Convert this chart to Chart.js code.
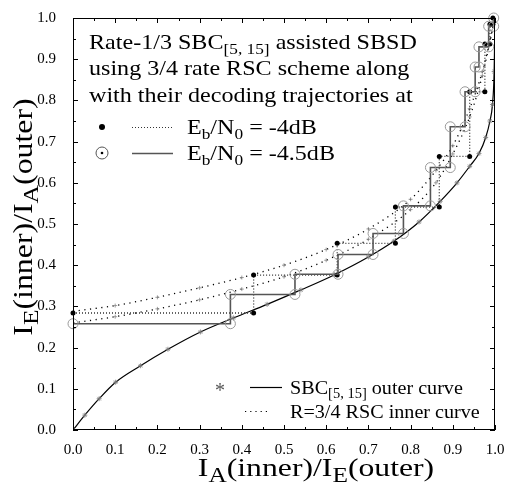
<!DOCTYPE html>
<html>
<head>
<meta charset="utf-8">
<script src="https://cdn.jsdelivr.net/npm/chart.js@4.4.0/dist/chart.umd.min.js"></script>
<style>
html, body { margin: 0; padding: 0; background: #fff; }
</style>
</head>
<body>
<canvas id="myChart" width="516" height="484"></canvas>
<script>
// Outer curve (SBC[5,15]), plotted inverted
const outerX = [0, 0.028, 0.062, 0.101, 0.160, 0.225, 0.302, 0.38, 0.46, 0.54, 0.62, 0.70, 0.76, 0.82, 0.87, 0.91, 0.94, 0.962, 0.978, 0.988, 0.994, 0.998, 1.0];
const outerY = [0, 0.036, 0.076, 0.116, 0.156, 0.196, 0.238, 0.272, 0.305, 0.340, 0.377, 0.420, 0.458, 0.505, 0.555, 0.60, 0.64, 0.671, 0.71, 0.75, 0.79, 0.87, 1.0];

// Inner curves (R=3/4 RSC) at -4dB and -4.5dB
const innerX = [0, 0.1, 0.2, 0.3, 0.4, 0.5, 0.6, 0.7, 0.8, 0.86, 0.9, 0.94, 0.97, 1.0];
const inner4Y = [0.288, 0.302, 0.322, 0.345, 0.370, 0.400, 0.438, 0.488, 0.560, 0.630, 0.69, 0.78, 0.87, 1.0];
const inner45Y = [0.260, 0.275, 0.294, 0.316, 0.342, 0.372, 0.412, 0.463, 0.535, 0.60, 0.67, 0.76, 0.86, 1.0];

// Decoding trajectories
const traj4X = [0, 0.428, 0.428, 0.626, 0.626, 0.764, 0.764, 0.868, 0.868, 0.940, 0.940, 0.976, 0.976, 0.988, 0.988, 0.995, 0.995];
const traj4Y = [0.284, 0.284, 0.376, 0.376, 0.453, 0.453, 0.541, 0.541, 0.664, 0.664, 0.821, 0.821, 0.937, 0.937, 0.985, 0.985, 1.0];
const traj45X = [0, 0.373, 0.373, 0.526, 0.526, 0.628, 0.628, 0.711, 0.711, 0.783, 0.783, 0.847, 0.847, 0.894, 0.894, 0.929, 0.929, 0.953, 0.953, 0.962, 0.962, 0.985, 0.985, 0.997, 0.997];
const traj45Y = [0.258, 0.258, 0.329, 0.329, 0.378, 0.378, 0.426, 0.426, 0.477, 0.477, 0.544, 0.544, 0.637, 0.637, 0.736, 0.736, 0.821, 0.821, 0.881, 0.881, 0.93, 0.93, 0.98, 0.98, 1.0];

const tickValues = [0, 0.1, 0.2, 0.3, 0.4, 0.5, 0.6, 0.7, 0.8, 0.9, 1.0];

const SERIF = '"Liberation Serif", "Times New Roman", serif';

function pts(xs, ys) {
    return xs.map((x, i) => ({ x: x, y: ys[i] }));
}

// draw text with subscripts: parts = [[text, isSub], ...]
// stretch widens the glyphs a little, the original font is wider than Liberation Serif
function richText(ctx, parts, x, y, size, align, subRatio, stretch) {
    const subSize = size * (subRatio || 0.72);
    const k = stretch || 1;
    let total = 0;
    const widths = parts.map(p => {
        ctx.font = (p[1] ? subSize : size) + 'px ' + SERIF;
        const w = ctx.measureText(p[0]).width;
        total += w;
        return w;
    });
    let cx = 0;
    if (align === 'center') cx = -total / 2;
    if (align === 'right') cx = -total;
    ctx.save();
    ctx.translate(x, y);
    ctx.scale(k, 1);
    ctx.textBaseline = 'alphabetic';
    ctx.textAlign = 'left';
    parts.forEach((p, i) => {
        ctx.font = (p[1] ? subSize : size) + 'px ' + SERIF;
        ctx.fillText(p[0], cx, p[1] ? size * 0.22 : 0);
        cx += widths[i];
    });
    ctx.restore();
    return total * k;
}

const decor = {
    id: 'decor',
    afterDraw(chart) {
        const ctx = chart.ctx;
        const a = chart.chartArea;
        const xs = chart.scales.x, ys = chart.scales.y;
        ctx.save();
        ctx.strokeStyle = '#000';
        ctx.lineWidth = 1;
        ctx.strokeRect(a.left + 0.5, a.top + 0.5, a.right - a.left - 1, a.bottom - a.top - 1);

        // inward ticks, major every 0.1 and minor every 0.05
        ctx.beginPath();
        for (let k = 0; k <= 20; k++) {
            const v = k * 0.05;
            const len = k % 2 === 0 ? 5 : 3;
            const px = Math.round(xs.getPixelForValue(v)) + 0.5;
            const py = Math.round(ys.getPixelForValue(v)) + 0.5;
            ctx.moveTo(px, a.bottom); ctx.lineTo(px, a.bottom - len);
            ctx.moveTo(px, a.top); ctx.lineTo(px, a.top + len);
            ctx.moveTo(a.left, py); ctx.lineTo(a.left + len, py);
            ctx.moveTo(a.right, py); ctx.lineTo(a.right - len, py);
        }
        ctx.stroke();

        ctx.fillStyle = '#000';
        // axis titles
        richText(ctx, [['I', 0], ['A', 1], ['(inner)/I', 0], ['E', 1], ['(outer)', 0]], 316, 476, 26, 'center', 0.8, 1.22);
        ctx.save();
        ctx.translate(32, 217);
        ctx.rotate(-Math.PI / 2);
        richText(ctx, [['I', 0], ['E', 1], ['(inner)/I', 0], ['A', 1], ['(outer)', 0]], 0, 0, 27, 'center', 0.8, 1.18);
        ctx.restore();

        // top-left annotation
        const fs = 21.5, st = 1.12;
        richText(ctx, [['Rate-1/3 SBC', 0], ['[5, 15]', 1], [' assisted SBSD', 0]], 89, 49, fs, 'left', 0.72, st);
        richText(ctx, [['using 3/4 rate RSC scheme along', 0]], 89, 75, fs, 'left', 0.72, st);
        richText(ctx, [['with their decoding trajectories at', 0]], 89, 102, fs, 'left', 0.72, st);
        richText(ctx, [['E', 0], ['b', 1], ['/N', 0], ['0', 1], [' = -4dB', 0]], 187, 134, fs, 'left', 0.72, st);
        richText(ctx, [['E', 0], ['b', 1], ['/N', 0], ['0', 1], [' = -4.5dB', 0]], 187, 160, fs, 'left', 0.72, st);

        // legend samples for the trajectories
        ctx.beginPath();
        ctx.arc(102, 127, 3, 0, Math.PI * 2);
        ctx.fill();
        ctx.strokeStyle = '#555';
        ctx.lineWidth = 1;
        ctx.beginPath();
        ctx.arc(102, 153, 6, 0, Math.PI * 2);
        ctx.stroke();
        ctx.beginPath();
        ctx.arc(102, 153, 1.3, 0, Math.PI * 2);
        ctx.fill();
        ctx.setLineDash([1, 2]);
        ctx.strokeStyle = '#333';
        ctx.beginPath();
        ctx.moveTo(132, 127.5); ctx.lineTo(173, 127.5);
        ctx.stroke();
        ctx.setLineDash([]);
        ctx.strokeStyle = '#555';
        ctx.lineWidth = 1.5;
        ctx.beginPath();
        ctx.moveTo(132, 153.5); ctx.lineTo(173, 153.5);
        ctx.stroke();

        // bottom-right legend
        ctx.fillStyle = '#555';
        ctx.font = '20px ' + SERIF;
        ctx.textAlign = 'center';
        ctx.fillText('*', 220, 397);
        ctx.fillStyle = '#000';
        ctx.strokeStyle = '#000';
        ctx.lineWidth = 1.2;
        ctx.beginPath();
        ctx.moveTo(250, 387.5); ctx.lineTo(282, 387.5);
        ctx.stroke();
        ctx.setLineDash([1.2, 4]);
        ctx.beginPath();
        ctx.moveTo(245, 411.5); ctx.lineTo(270, 411.5);
        ctx.stroke();
        ctx.setLineDash([]);
        richText(ctx, [['SBC', 0], ['[5, 15]', 1], [' outer curve', 0]], 290, 394, 19, 'left', 0.72, 1.06);
        richText(ctx, [['R=3/4 RSC inner curve', 0]], 290, 418, 19, 'left', 0.72, 1.06);
        ctx.restore();
    }
};

const ctx = document.getElementById('myChart').getContext('2d');
const myChart = new Chart(ctx, {
    type: 'scatter',
    data: {
        datasets: [
            {
                label: 'traj -4.5dB',
                data: pts(traj45X, traj45Y),
                showLine: true,
                borderColor: '#555',
                borderWidth: 1.6,
                pointStyle: 'circle',
                pointRadius: 5,
                pointBorderColor: '#999',
                pointBorderWidth: 1,
                pointBackgroundColor: 'rgba(0,0,0,0)',
                clip: false
            },
            {
                label: 'traj -4dB',
                data: pts(traj4X, traj4Y),
                showLine: true,
                borderColor: '#333',
                borderWidth: 1.3,
                borderDash: [1, 2],
                pointRadius: 2.5,
                pointBackgroundColor: '#000',
                pointBorderColor: '#000',
                pointBorderWidth: 0,
                clip: false
            },
            {
                label: 'outer',
                data: pts(outerX, outerY),
                showLine: true,
                borderColor: '#000',
                borderWidth: 1.2,
                pointStyle: 'star',
                pointRadius: 2.5,
                pointBorderColor: '#777',
                pointBorderWidth: 0.8,
                cubicInterpolationMode: 'monotone'
            },
            {
                label: 'inner -4dB',
                data: pts(innerX, inner4Y),
                showLine: true,
                borderColor: '#000',
                borderWidth: 1.3,
                borderDash: [1.2, 4.5],
                pointStyle: 'cross',
                pointRadius: 2,
                pointBorderColor: '#888',
                pointBorderWidth: 0.8,
                cubicInterpolationMode: 'monotone'
            },
            {
                label: 'inner -4.5dB',
                data: pts(innerX, inner45Y),
                showLine: true,
                borderColor: '#000',
                borderWidth: 1.3,
                borderDash: [1.2, 4.5],
                pointStyle: 'cross',
                pointRadius: 2,
                pointBorderColor: '#888',
                pointBorderWidth: 0.8,
                cubicInterpolationMode: 'monotone'
            }
        ]
    },
    options: {
        responsive: false,
        animation: false,
        devicePixelRatio: 1,
        layout: { padding: { left: 0, top: 13, right: 21, bottom: 0 } },
        plugins: {
            legend: { display: false },
            tooltip: { enabled: false }
        },
        scales: {
            x: {
                type: 'linear',
                min: 0,
                max: 1,
                afterFit: (s) => { s.height = 54; },
                afterBuildTicks: (s) => { s.ticks = tickValues.map(v => ({ value: v })); },
                grid: { display: false },
                border: { display: false },
                ticks: {
                    color: '#000',
                    font: { family: SERIF, size: 15 },
                    padding: 3,
                    maxRotation: 0,
                    callback: (v) => v.toFixed(1)
                }
            },
            y: {
                type: 'linear',
                min: 0,
                max: 1,
                afterFit: (s) => { s.width = 73; },
                afterBuildTicks: (s) => { s.ticks = tickValues.map(v => ({ value: v })); },
                grid: { display: false },
                border: { display: false },
                ticks: {
                    color: '#000',
                    font: { family: SERIF, size: 15 },
                    padding: 9,
                    callback: (v) => v.toFixed(1)
                }
            }
        }
    },
    plugins: [decor]
});
</script>
</body>
</html>
